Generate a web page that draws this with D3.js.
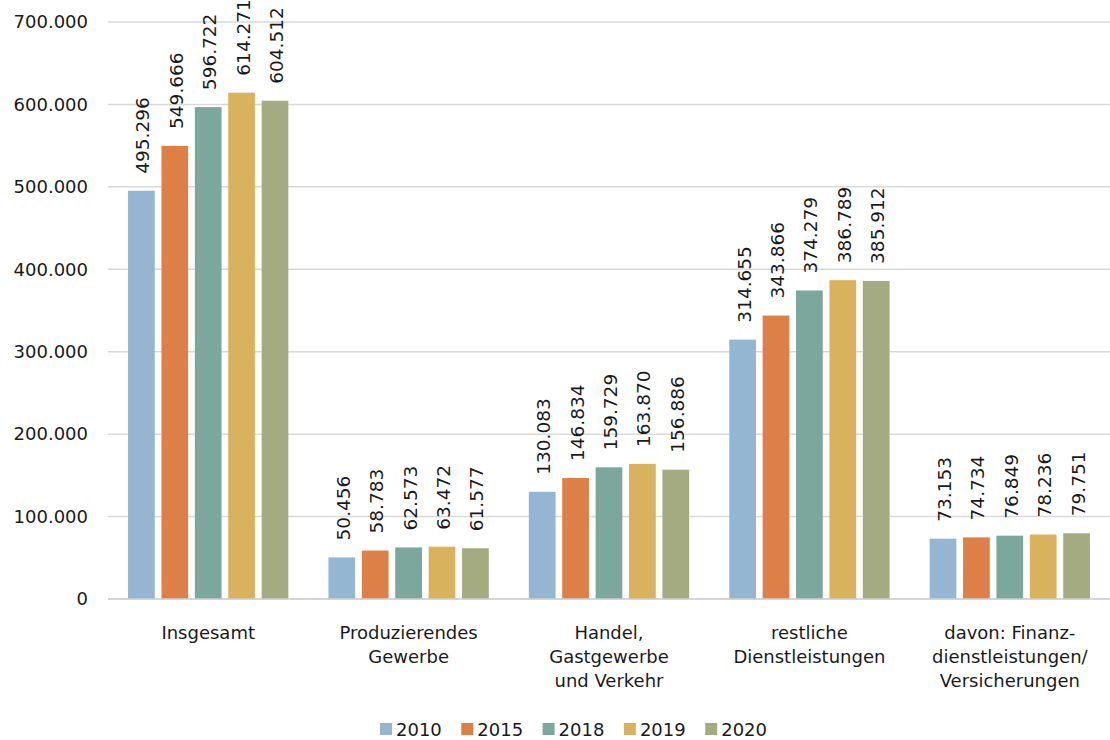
<!DOCTYPE html>
<html>
<head>
<meta charset="utf-8">
<script src="https://cdn.jsdelivr.net/npm/d3@7"></script>
<style>
  html, body { margin: 0; padding: 0; background: #fff; }
  svg text { font-family: "DejaVu Sans", Verdana, sans-serif; fill: #1a1a1a; }
</style>
</head>
<body>
<svg id="chart" width="1110" height="740"></svg>
<script>
// Sectors (multi-line labels split on "|")
const categories = [
  "Insgesamt",
  "Produzierendes|Gewerbe",
  "Handel,|Gastgewerbe|und Verkehr",
  "restliche|Dienstleistungen",
  "davon: Finanz-|dienstleistungen/|Versicherungen"
];
const years = ["2010", "2015", "2018", "2019", "2020"];
const colors = ["#94B6D2", "#DD8047", "#7BA79D", "#D8B25C", "#A5AB81"];

// Values per year, in category order
const v2010 = [495296, 50456, 130083, 314655, 73153];
const v2015 = [549666, 58783, 146834, 343866, 74734];
const v2018 = [596722, 62573, 159729, 374279, 76849];
const v2019 = [614271, 63472, 163870, 386789, 78236];
const v2020 = [604512, 61577, 156886, 385912, 79751];
const series = [v2010, v2015, v2018, v2019, v2020];

const yTicks = [0, 100000, 200000, 300000, 400000, 500000, 600000, 700000];

const fmt = v => d3.format(",")(v).replace(/,/g, ".");

const svg = d3.select("#chart");
const plotLeft = 108, plotRight = 1110, plotTop = 22, plotBottom = 599;

const x0 = d3.scaleBand().domain(categories).range([plotLeft, plotRight]).padding(0);
const x1 = d3.scaleBand().domain(years).range([0, x0.bandwidth()])
  .paddingInner(0.2).paddingOuter(0.6);
const y = d3.scaleLinear().domain([0, 700000]).range([plotBottom, plotTop]);

// Horizontal gridlines
svg.append("g").selectAll("line").data(yTicks).join("line")
  .attr("x1", plotLeft).attr("x2", plotRight)
  .attr("y1", d => y(d)).attr("y2", d => y(d))
  .attr("stroke", "#d9d9d9").attr("stroke-width", 1.5);

// Y axis labels
const yAxis = d3.axisLeft(y).tickValues(yTicks).tickFormat(fmt).tickSize(0).tickPadding(20);
const gy = svg.append("g").attr("transform", `translate(${plotLeft},0)`).call(yAxis);
gy.select(".domain").remove();
gy.selectAll("text").attr("font-size", 18).attr("fill", "#1a1a1a")
  .style("font-family", '"DejaVu Sans", Verdana, sans-serif');

// Bars and value labels
const groups = svg.append("g").selectAll("g").data(categories).join("g")
  .attr("transform", d => `translate(${x0(d)},0)`);

years.forEach((yr, si) => {
  groups.append("rect")
    .attr("x", x1(yr))
    .attr("width", x1.bandwidth())
    .attr("y", (d, ci) => y(series[si][ci]))
    .attr("height", (d, ci) => y(0) - y(series[si][ci]))
    .attr("fill", colors[si]);

  groups.append("text")
    .attr("transform", (d, ci) =>
      `translate(${x1(yr) + x1.bandwidth() / 2 + 8},${y(series[si][ci]) - 17}) rotate(-90)`)
    .attr("font-size", 18.5)
    .attr("text-anchor", "start")
    .text((d, ci) => fmt(series[si][ci]));
});

// X axis baseline
svg.append("line").attr("x1", plotLeft).attr("x2", plotRight)
  .attr("y1", y(0)).attr("y2", y(0))
  .attr("stroke", "#d0d0d0").attr("stroke-width", 1.5);

// Category labels
const xl = svg.append("g");
categories.forEach(c => {
  const cx = x0(c) + x0.bandwidth() / 2;
  const t = xl.append("text")
    .attr("x", cx)
    .attr("y", 639)
    .attr("text-anchor", "middle")
    .attr("font-size", 18);
  c.split("|").forEach((line, i) => {
    t.append("tspan").attr("x", cx)
      .attr("dy", i === 0 ? 0 : 24).text(line);
  });
});

// Legend
const legend = svg.append("g");
const legendStart = 380;
years.forEach((yr, i) => {
  const gx = legendStart + i * 81.3;
  legend.append("rect").attr("x", gx).attr("y", 723).attr("width", 12).attr("height", 12)
    .attr("fill", colors[i]);
  legend.append("text").attr("x", gx + 16).attr("y", 736).attr("font-size", 18).text(yr);
});
</script>
</body>
</html>
